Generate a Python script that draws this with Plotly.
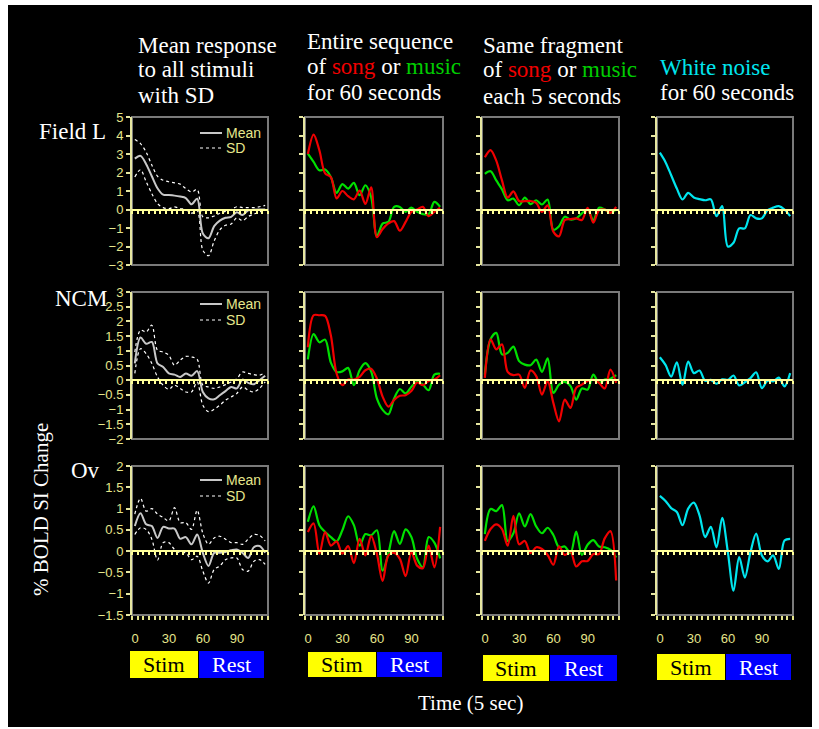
import plotly.graph_objects as go

W, H = 819, 729

# ---------------- data (time in 5-sec units, % BOLD SI change) ----------------
time_pts = list(range(0, 120, 5))
x_tick_labels = ["0", "30", "60", "90"]
x_tick_label_vals = [0, 30, 60, 90]

# Row 1 : Field L
fl_mean = [2.75, 2.9, 2.45, 1.8, 1.15, 0.8, 0.78, 0.75, 0.7, 0.62, 0.28, 0.58, -1.3, -1.55, -0.9, -0.6, -0.45, -0.4, -0.15, -0.3, -0.05, -0.02, 0.0, 0.0]
fl_sd_hi = [3.78, 3.56, 3.1, 2.4, 1.8, 1.58, 1.5, 1.44, 1.37, 1.13, 0.95, 1.08, -0.4, -0.45, -0.35, -0.2, -0.1, 0.0, 0.15, 0.1, 0.1, 0.1, 0.15, 0.22]
fl_sd_lo = [1.76, 2.15, 1.5, 0.86, 0.32, 0.1, 0.04, 0.14, 0.05, 0.0, -0.2, -0.05, -2.2, -2.5, -1.7, -1.1, -0.85, -0.78, -0.45, -0.6, -0.38, -0.25, -0.13, -0.04]
fl_entire_song = [3.0, 4.05, 3.2, 1.95, 1.75, 0.6, 1.0, 0.72, 0.55, 1.02, 0.3, 1.2, -1.5, -1.05, -0.75, -0.63, -1.15, -0.67, -0.13, 0.0, 0.14, -0.36, -0.13, 0.1]
fl_entire_music = [3.02, 2.57, 2.12, 2.16, 1.76, 0.9, 1.37, 1.13, 1.44, 0.77, 1.31, 0.68, -1.45, -0.76, -0.67, 0.14, 0.14, -0.13, 0.1, -0.13, -0.25, -0.25, 0.41, 0.14]
fl_same_song = [2.82, 3.21, 2.64, 1.57, 0.64, 0.98, 0.46, 0.45, 0.46, 0.36, -0.13, 0.23, -1.2, -1.45, -0.57, -0.52, -0.48, -0.57, 0.09, -0.71, -0.04, 0.0, -0.18, 0.14]
fl_same_music = [1.93, 2.07, 1.57, 1.09, 0.5, 0.59, 0.23, 0.64, 0.29, 0.5, 0.27, 0.54, -1.1, -0.9, -0.39, -0.54, -0.48, -0.21, 0.0, -0.57, 0.09, 0.0, -0.18, 0.0]
fl_noise = [3.07, 2.56, 1.85, 1.13, 0.54, 0.9, 0.65, 0.56, 0.5, 0.55, -0.36, 0.18, -2.0, -1.8, -1.02, -1.02, -0.3, -0.48, -0.48, -0.04, 0.1, 0.18, 0.0, -0.36]

# Row 2 : NCM
ncm_mean = [0.57, 1.45, 1.24, 1.3, 0.57, 0.45, 0.23, 0.19, 0.11, 0.23, 0.15, 0.31, -0.4, -0.62, -0.65, -0.51, -0.37, -0.23, -0.28, 0.02, -0.09, -0.14, 0.0, 0.15]
ncm_sd_hi = [0.96, 1.7, 1.64, 1.87, 1.02, 0.96, 0.85, 0.51, 0.68, 0.81, 0.79, 0.71, -0.17, -0.23, -0.28, -0.23, -0.15, -0.06, 0.05, 0.28, 0.23, 0.19, 0.17, 0.26]
ncm_sd_lo = [0.23, 1.07, 0.9, 0.57, 0.11, -0.17, -0.31, -0.17, -0.28, -0.4, -0.4, -0.06, -0.85, -1.07, -0.99, -0.85, -0.68, -0.57, -0.45, -0.23, -0.34, -0.4, -0.28, -0.06]
ncm_entire_song = [1.12, 2.21, 2.21, 2.19, 1.52, 0.22, -0.17, 0.02, 0.02, 0.11, 0.34, 0.39, 0.06, -0.56, -0.9, -0.67, -0.53, -0.51, -0.37, -0.08, -0.17, -0.03, 0.02, 0.17]
ncm_entire_music = [0.71, 1.57, 1.29, 1.38, 0.6, 0.28, 0.3, 0.42, -0.17, 0.34, 0.58, 0.3, -0.62, -1.01, -1.16, -0.62, -0.3, -0.45, -0.22, -0.06, -0.15, -0.34, 0.19, 0.22]
ncm_same_song = [0.08, 1.39, 1.05, 1.22, 0.28, 0.17, 0.19, -0.26, 0.33, 0.14, -0.49, -0.03, -0.77, -1.4, -0.66, -0.94, -0.26, -0.15, -0.03, 0.02, -0.09, -0.28, 0.36, -0.09]
ncm_same_music = [0.19, 1.39, 1.61, 0.88, 0.93, 1.14, 0.65, 0.53, 0.51, 0.7, 0.28, 0.74, -0.43, -0.15, -0.06, -0.2, -0.66, -0.28, -0.32, 0.19, -0.09, 0.02, 0.05, 0.17]
ncm_noise = [0.78, 0.52, 0.12, 0.61, -0.16, 0.63, 0.24, 0.33, -0.02, 0.01, -0.12, 0.03, 0.01, 0.16, -0.18, -0.07, 0.07, 0.27, -0.27, -0.02, -0.04, 0.09, -0.21, 0.24]

# Row 3 : Ov
ov_mean = [0.59, 0.89, 0.63, 0.59, 0.31, 0.57, 0.53, 0.53, 0.29, 0.33, 0.16, 0.39, -0.04, -0.35, -0.04, -0.04, -0.02, 0.02, 0.04, -0.04, -0.16, 0.09, 0.12, -0.04]
ov_sd_hi = [0.87, 1.24, 0.94, 1.0, 0.87, 0.79, 0.71, 1.02, 0.67, 0.67, 0.51, 0.96, 0.42, 0.16, 0.31, 0.35, 0.28, 0.2, 0.2, 0.16, 0.28, 0.39, 0.37, 0.24]
ov_sd_lo = [0.39, 0.55, 0.51, 0.28, -0.21, 0.2, 0.2, 0.04, -0.04, -0.04, -0.2, -0.12, -0.47, -0.75, -0.43, -0.35, -0.2, -0.16, -0.16, -0.43, -0.47, -0.24, -0.2, -0.31]
ov_entire_song = [0.45, 0.65, -0.06, 0.45, 0.13, 0.23, -0.06, 0.12, -0.28, 0.29, -0.1, 0.36, -0.06, -0.7, -0.1, -0.04, -0.18, -0.59, -0.02, -0.34, -0.4, 0.13, -0.38, 0.57]
ov_entire_music = [0.69, 1.05, 0.61, 0.45, 0.33, 0.23, 0.49, 0.82, 0.61, 0.13, 0.4, 0.37, 0.49, -0.46, -0.06, 0.47, 0.17, 0.51, 0.33, -0.18, -0.38, 0.33, 0.2, -0.17]
ov_same_song = [0.24, 0.52, 0.63, 0.52, 0.13, 0.83, 0.16, 0.24, -0.05, 0.09, 0.05, -0.09, -0.32, 0.11, -0.09, -0.01, -0.36, -0.24, -0.23, -0.07, -0.07, 0.3, 0.47, -0.69]
ov_same_music = [0.4, 0.99, 0.94, 1.08, 0.24, 0.42, 0.89, 0.58, 0.87, 0.58, 0.42, 0.55, 0.38, 0.09, 0.11, -0.05, 0.46, -0.09, 0.15, 0.26, 0.11, 0.09, 0.03, -0.15]
ov_noise = [1.3, 1.18, 1.01, 0.92, 0.61, 1.0, 1.14, 0.84, 0.33, 0.57, 0.09, 0.78, -0.02, -0.93, -0.14, -0.62, -0.02, 0.41, -0.1, -0.24, -0.1, -0.42, 0.25, 0.29]

row_labels = ["Field L", "NCM", "Ov"]
y_ranges = [(-3, 5, 1), (-2, 3, 0.5), (-1.5, 2, 0.5)]
legend_names = ["Mean", "SD"]

# ---------------- styling ----------------
RED = "#F00000"
GREEN = "#00E000"
CYAN = "#00E5EE"
MEAN_COL = "#C8C8C8"
SD_COL = "#FFFFFF"
AX_YEL = "#E6E6A0"
TICK_COL = "#E6E68C"
ZERO_COL = "#FFFF99"
FRAME_COL = "#7A7A7A"
SERIF = "Liberation Serif, Times New Roman, serif"
SANS = "Liberation Sans, Arial, sans-serif"
LW = 2.2

COLS_PX = [(132, 268), (305, 443), (482, 619), (657, 793)]
ROWS_PX = [(117, 265), (292, 439), (466, 615)]
LEGEND_PX = [(133, 148), (304, 320), (480, 496)]
X_RANGE = [-2.5, 117.5]
bounds = [X_RANGE[0] + 5 * i for i in range(25)]


def px(x):
    return x / W


def py(y):
    return 1 - y / H


rows_data = [
    dict(mean=fl_mean, hi=fl_sd_hi, lo=fl_sd_lo, es=fl_entire_song, em=fl_entire_music,
         ss=fl_same_song, sm=fl_same_music, wn=fl_noise),
    dict(mean=ncm_mean, hi=ncm_sd_hi, lo=ncm_sd_lo, es=ncm_entire_song, em=ncm_entire_music,
         ss=ncm_same_song, sm=ncm_same_music, wn=ncm_noise),
    dict(mean=ov_mean, hi=ov_sd_hi, lo=ov_sd_lo, es=ov_entire_song, em=ov_entire_music,
         ss=ov_same_song, sm=ov_same_music, wn=ov_noise),
]

fig = go.Figure()
layout = {}
shapes = []
annotations = []

for r in range(3):
    ymin, ymax, dt = y_ranges[r]
    y0p, y1p = py(ROWS_PX[r][1]), py(ROWS_PX[r][0])
    zero_pos = y0p + (0 - ymin) / (ymax - ymin) * (y1p - y0p)
    d = rows_data[r]
    for c in range(4):
        k = r * 4 + c + 1
        xs = "x" if k == 1 else f"x{k}"
        ys = "y" if k == 1 else f"y{k}"
        xname = "xaxis" if k == 1 else f"xaxis{k}"
        yname = "yaxis" if k == 1 else f"yaxis{k}"
        layout[xname] = dict(
            domain=[px(COLS_PX[c][0]), px(COLS_PX[c][1])], range=X_RANGE,
            anchor="free", position=zero_pos, automargin=False,
            showline=True, linecolor=ZERO_COL, linewidth=2,
            ticks="outside", ticklen=3, tickwidth=2, tickcolor=ZERO_COL,
            tickmode="array", tickvals=bounds, showticklabels=False,
            showgrid=False, zeroline=False, fixedrange=True,
        )
        layout[yname] = dict(
            domain=[y0p, y1p], range=[ymin, ymax], anchor=xs, automargin=False,
            showline=True, linecolor=AX_YEL, linewidth=2,
            ticks="outside", ticklen=4, tickwidth=2, tickcolor=AX_YEL,
            tick0=ymin, dtick=dt, showticklabels=(c == 0),
            tickfont=dict(family=SANS, size=13, color=TICK_COL),
            showgrid=False, zeroline=False, fixedrange=True,
        )
        shapes.append(dict(type="rect", xref=f"{xs} domain", yref=f"{ys} domain",
                           x0=0, x1=1, y0=0, y1=1, layer="below",
                           line=dict(color=FRAME_COL, width=2)))
        if r == 2:
            on = 12 + c + 1
            layout[f"xaxis{on}"] = dict(
                overlaying=xs, anchor=ys, side="bottom", range=X_RANGE, automargin=False,
                showline=False, ticks="outside", ticklen=4, tickwidth=2, tickcolor=TICK_COL,
                tickmode="array", tickvals=bounds,
                ticktext=[x_tick_labels[x_tick_label_vals.index(b + 2.5)] if (b + 2.5) in x_tick_label_vals else "" for b in bounds],
                ticklabelshift=3, ticklabelstandoff=7,
                tickfont=dict(family=SANS, size=13, color=TICK_COL),
                showgrid=False, zeroline=False, fixedrange=True,
            )
            # empty trace so the bottom time axis is drawn
            fig.add_trace(go.Scatter(x=[], y=[], xaxis=f"x{on}", yaxis=ys, showlegend=False, hoverinfo="skip"))
        common = dict(x=time_pts, xaxis=xs, yaxis=ys, mode="lines", hoverinfo="skip", showlegend=False)
        if c == 0:
            for key in ("hi", "lo"):
                fig.add_trace(go.Scatter(y=d[key], name="SD",
                                         line=dict(color=SD_COL, width=1.2, dash="3px,3px", shape="spline", smoothing=0.9),
                                         **common))
            fig.add_trace(go.Scatter(y=d["mean"], name="Mean",
                                     line=dict(color=MEAN_COL, width=2, shape="spline", smoothing=0.9),
                                     **common))
        elif c == 1:
            fig.add_trace(go.Scatter(y=d["em"], name="music",
                                     line=dict(color=GREEN, width=LW, shape="spline", smoothing=0.9), **common))
            fig.add_trace(go.Scatter(y=d["es"], name="song",
                                     line=dict(color=RED, width=LW, shape="spline", smoothing=0.9), **common))
        elif c == 2:
            fig.add_trace(go.Scatter(y=d["sm"], name="music",
                                     line=dict(color=GREEN, width=LW, shape="spline", smoothing=0.9), **common))
            fig.add_trace(go.Scatter(y=d["ss"], name="song",
                                     line=dict(color=RED, width=LW, shape="spline", smoothing=0.9), **common))
        else:
            fig.add_trace(go.Scatter(y=d["wn"], name="White noise",
                                     line=dict(color=CYAN, width=LW, shape="spline", smoothing=0.9), **common))
    # mini legend (Mean / SD) inside the first panel of each row
    for name, yy, lstyle in zip(legend_names, LEGEND_PX[r],
                                [dict(color=MEAN_COL, width=2), dict(color=SD_COL, width=1.2, dash="3px,3px")]):
        shapes.append(dict(type="line", xref="paper", yref="paper", x0=px(200), x1=px(222),
                           y0=py(yy), y1=py(yy), line=lstyle, layer="above"))
        annotations.append(dict(text=name, x=px(224), y=py(yy), xref="paper", yref="paper",
                                showarrow=False, xanchor="left", yanchor="middle",
                                font=dict(family=SANS, size=14, color=TICK_COL)))

# black panel
shapes.insert(0, dict(type="rect", xref="paper", yref="paper", x0=px(8), x1=px(812),
                      y0=py(727), y1=py(5), fillcolor="black", line=dict(width=0), layer="below"))

# Stim / Rest boxes
boxes = [
    ((130, 198, 199, 264), (651, 678)),
    ((308, 376, 377, 442), (652, 677)),
    ((483, 549, 550, 617), (655, 681)),
    ((657, 725, 726, 791), (654, 680)),
]
for (sx0, sx1, rx0, rx1), (by0, by1) in boxes:
    shapes.append(dict(type="rect", xref="paper", yref="paper", x0=px(sx0), x1=px(sx1),
                       y0=py(by1), y1=py(by0), fillcolor="#FFFF00", line=dict(width=0), layer="above"))
    shapes.append(dict(type="rect", xref="paper", yref="paper", x0=px(rx0), x1=px(rx1),
                       y0=py(by1), y1=py(by0), fillcolor="#0000FF", line=dict(width=0), layer="above"))
    annotations.append(dict(text="Stim", x=px((sx0 + sx1) / 2), y=py((by0 + by1) / 2), xref="paper", yref="paper",
                            showarrow=False, xanchor="center", yanchor="middle",
                            font=dict(family=SERIF, size=22, color="black")))
    annotations.append(dict(text="Rest", x=px((rx0 + rx1) / 2), y=py((by0 + by1) / 2), xref="paper", yref="paper",
                            showarrow=False, xanchor="center", yanchor="middle",
                            font=dict(family=SERIF, size=22, color="white")))

# column titles
title_lines = [
    (136, [45, 70, 95], ["Mean response", "to all stimuli", "with SD"]),
    (305, [42, 67, 92], ["Entire sequence",
                         f"of <span style='color:{RED}'>song</span> or <span style='color:#00CC00'>music</span>",
                         "for 60 seconds"]),
    (481, [45, 70, 96], ["Same fragment",
                         f"of <span style='color:{RED}'>song</span> or <span style='color:#00CC00'>music</span>",
                         "each 5 seconds"]),
    (658, [68, 93], [f"<span style='color:{CYAN}'>White noise</span>", "for 60 seconds"]),
]
for x0, ys_, lines in title_lines:
    for yy, txt in zip(ys_, lines):
        annotations.append(dict(text=txt, x=px(x0), y=py(yy), xref="paper", yref="paper",
                                showarrow=False, xanchor="left", yanchor="middle",
                                font=dict(family=SERIF, size=23, color="white")))

# row labels
for (xr, yc), lab in zip([(108, 131), (109, 298), (102, 470)], row_labels):
    annotations.append(dict(text=lab, x=px(xr), y=py(yc), xref="paper", yref="paper",
                            showarrow=False, xanchor="right", yanchor="middle",
                            font=dict(family=SERIF, size=23, color="white")))

# axis titles
annotations.append(dict(text="% BOLD SI Change", x=px(41), y=py(510), xref="paper", yref="paper",
                        showarrow=False, textangle=-90, xanchor="center", yanchor="middle",
                        font=dict(family=SERIF, size=21, color="white")))
annotations.append(dict(text="Time (5 sec)", x=px(471), y=py(703), xref="paper", yref="paper",
                        showarrow=False, xanchor="center", yanchor="middle",
                        font=dict(family=SERIF, size=21, color="white")))

fig.update_layout(
    width=W, height=H, autosize=False,
    margin=dict(l=0, r=0, t=0, b=0, pad=0, autoexpand=False),
    paper_bgcolor="white", plot_bgcolor="black",
    showlegend=False,
    shapes=shapes, annotations=annotations,
    **layout,
)

fig.write_html("out.html", post_script="document.body.style.margin='0';",
               config={"displayModeBar": False})
